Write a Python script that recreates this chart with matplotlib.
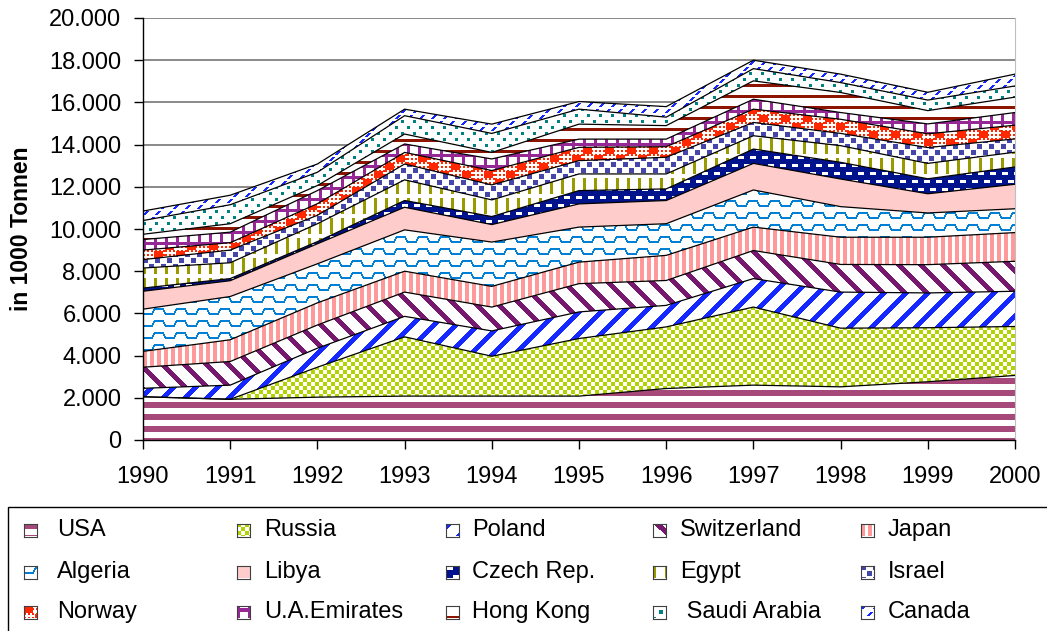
import numpy as np
import matplotlib
matplotlib.use("Agg")
import matplotlib.pyplot as plt
from matplotlib.patches import Rectangle

plt.rcParams['font.family'] = ['Liberation Sans', 'DejaVu Sans']

# ---------------- data (1000 t) ----------------
years = [1990, 1991, 1992, 1993, 1994, 1995, 1996, 1997, 1998, 1999, 2000]
series_names = ["USA", "Russia", "Poland", "Switzerland", "Japan",
                "Algeria", "Libya", "Czech Rep.", "Egypt", "Israel",
                "Norway", "U.A.Emirates", "Hong Kong", " Saudi Arabia", "Canada"]
usa = [2050, 1930, 2030, 2080, 2080, 2080, 2440, 2600, 2520, 2760, 3060]
russia = [0, 0, 1420, 2810, 1890, 2730, 2920, 3700, 2780, 2560, 2320]
poland = [400, 670, 900, 970, 1200, 1260, 1020, 1350, 1710, 1650, 1670]
switzerland = [1000, 1120, 1100, 1150, 1130, 1340, 1180, 1330, 1310, 1340, 1420]
japan = [750, 1030, 1050, 990, 980, 1020, 1190, 1110, 1290, 1300, 1360]
algeria = [2000, 2050, 1850, 1960, 2100, 1660, 1500, 1760, 1450, 1150, 1130]
libya = [850, 750, 950, 1070, 830, 1100, 1100, 1260, 1310, 910, 1160]
czech = [150, 100, 100, 320, 380, 630, 550, 680, 790, 710, 820]
egypt = [950, 750, 850, 980, 790, 790, 710, 630, 790, 730, 700]
israel = [400, 600, 400, 750, 710, 630, 790, 630, 580, 750, 630]
norway = [450, 350, 550, 550, 680, 630, 500, 630, 670, 650, 650]
uae = [500, 500, 620, 400, 550, 390, 360, 470, 320, 470, 600]
hong_kong = [250, 400, 240, 470, 310, 710, 640, 870, 950, 630, 730]
saudi = [650, 900, 630, 870, 900, 710, 400, 580, 470, 500, 530]
canada = [450, 450, 390, 310, 440, 360, 500, 400, 400, 370, 560]
ytick_values = [0, 2000, 4000, 6000, 8000, 10000, 12000, 14000, 16000, 18000, 20000]
ytick_labels = ["0", "2.000", "4.000", "6.000", "8.000", "10.000",
                "12.000", "14.000", "16.000", "18.000", "20.000"]
ylabel = "in 1000 Tonnen"

series = [usa, russia, poland, switzerland, japan, algeria, libya, czech,
          egypt, israel, norway, uae, hong_kong, saudi, canada]

# ---------------- pattern tiles (style only) ----------------
W = np.array([255, 255, 255], dtype=np.uint8)


def blank(h, w):
    t = np.empty((h, w, 3), dtype=np.uint8)
    t[:] = W
    return t


def tile_usa():
    t = blank(12, 1); t[0:6] = (166, 73, 122); return t


def tile_russia():
    t = blank(8, 8)
    for r in range(8):
        for c in range(8):
            if (r // 4 + c // 4) % 2 == 0:
                t[r, c] = (176, 212, 0)
    return t


def tile_diag(color, up=True, p=22, th=7):
    t = blank(p, p)
    for r in range(p):
        for c in range(p):
            v = (c + r) % p if up else (c - r) % p
            if v < th:
                t[r, c] = color
    return t


def tile_japan():
    t = blank(1, 7); t[:, 0:4] = (255, 153, 153); return t


def tile_algeria():
    t = blank(12, 22)
    col = (0, 128, 212)
    prof = [7] * 9 + [5, 3] + [2] * 9 + [4, 6]
    for c in range(22):
        y = prof[c]
        yp = prof[c - 1]
        lo, hi = min(y, yp), max(y, yp)
        t[lo:hi + 2, c] = col
    return t


def tile_libya():
    t = blank(1, 1); t[:] = (255, 204, 204); return t


def tile_czech():
    t = blank(16, 12)
    t[:] = (0, 18, 140)
    t[2:5, 1:7] = W
    t[10:13, 7:12] = W
    t[10:13, 0:1] = W
    return t


def tile_egypt():
    t = blank(20, 11); t[0:16, 0:3] = (153, 153, 0); return t


def tile_israel():
    t = blank(12, 12)
    col = (70, 70, 170)
    t[0:5, 0:5] = col
    t[6:11, 6:11] = col
    return t


def tile_norway():
    t = blank(16, 22)
    col = (255, 40, 0)
    for r in range(16):
        for c in range(22):
            if (r // 2 + c // 2) % 2 == 0 and (r // 2) % 2 == 0:
                t[r, c] = col
    t[1:8, 0:9] = col
    t[9:16, 11:20] = col
    return t


def tile_uae():
    t = blank(11, 11)
    col = (150, 40, 150)
    t[4:7, :] = col
    t[:, 0:3] = col
    return t


def tile_hk():
    t = blank(11, 1); t[0:3] = (140, 20, 0); return t


def tile_saudi():
    t = blank(12, 12)
    col = (0, 128, 128)
    t[0:3, 0:3] = col
    t[6:9, 6:9] = col
    return t


def tile_canada():
    t = blank(12, 12)
    col = (20, 40, 255)
    for k in range(4):
        t[4 - k, 0 + k:3 + k] = col
        t[10 - k, 6 + k:9 + k] = col
    return t


tiles = [tile_usa(), tile_russia(), tile_diag((20, 40, 255), up=True),
         tile_diag((118, 24, 110), up=False), tile_japan(), tile_algeria(),
         tile_libya(), tile_czech(), tile_egypt(), tile_israel(), tile_norway(),
         tile_uae(), tile_hk(), tile_saudi(), tile_canada()]


def texture(tile, h, w):
    th, tw = tile.shape[:2]
    big = np.tile(tile, (h // th + 2, w // tw + 2, 1))
    return big[:h, :w]


# ---------------- figure ----------------
FW, FH = 1047, 631
fig = plt.figure(figsize=(FW / 100, FH / 100), dpi=100)
ax_l, ax_r, ax_t, ax_b = 143, 1015, 18, 440
ax = fig.add_axes([ax_l / FW, (FH - ax_b) / FH, (ax_r - ax_l) / FW, (ax_b - ax_t) / FH])
AW, AH = ax_r - ax_l, ax_b - ax_t

ax.set_xlim(years[0], years[-1])
ax.set_ylim(0, 20000)

cum = np.zeros(len(years))
for i, vals in enumerate(series):
    lower = cum.copy()
    cum = cum + np.array(vals, dtype=float)
    poly = ax.fill_between(years, lower, cum, facecolor='none', edgecolor='none', linewidth=0)
    tex = texture(tiles[i], AH, AW)
    im = ax.imshow(tex, extent=[years[0], years[-1], 0, 20000], aspect='auto',
                   interpolation='nearest', zorder=1)
    im.set_clip_path(poly.get_paths()[0], ax.transData)
    ax.plot(years, cum, color='black', lw=0.9, zorder=3, solid_joinstyle='miter')

ax.set_xlim(years[0], years[-1])
ax.set_ylim(0, 20000)
ax.set_axisbelow(True)
ax.yaxis.grid(True, color='#808080', lw=1.3)
ax.set_yticks(ytick_values)
ax.set_yticklabels(ytick_labels)
ax.set_xticks(years)
ax.set_xticklabels([str(y) for y in years])
ax.tick_params(axis='both', direction='out', length=6.5, width=1, labelsize=17, color='black')
ax.tick_params(axis='y', pad=9)
ax.tick_params(axis='x', pad=12)
for s in ['left', 'bottom']:
    ax.spines[s].set_color('black'); ax.spines[s].set_linewidth(1)
ax.spines['top'].set_visible(False)
ax.spines['right'].set_color('#BFBFBF')
ax.set_ylabel(ylabel, fontsize=16.5, fontweight='bold')
ax.yaxis.set_label_coords((33 - ax_l) / AW, 0.5)

# ---------------- legend (manual, Excel-like) ----------------
fig.add_artist(Rectangle((8 / FW, -0.2), 1.2, (FH - 507) / FH + 0.2,
                         transform=fig.transFigure, fill=False, edgecolor='black', lw=1))
col_marker_x = [24, 237, 446, 653, 861]
col_text_x = [57, 264, 472, 680, 888]
row_y = [530, 572, 612]
for i, name in enumerate(series_names):
    r, c = divmod(i, 5)
    yc = row_y[r]
    iax = fig.add_axes([col_marker_x[c] / FW, (FH - yc - 6.5) / FH, 13 / FW, 13 / FH])
    iax.imshow(texture(tiles[i], 13, 13), interpolation='nearest', aspect='auto')
    iax.set_xticks([]); iax.set_yticks([])
    for sp in iax.spines.values():
        sp.set_color('#404040'); sp.set_linewidth(0.8)
    fig.text(col_text_x[c] / FW, (FH - yc) / FH, name, fontsize=17,
             va='center', ha='left')

fig.savefig("out.png", dpi=100)
